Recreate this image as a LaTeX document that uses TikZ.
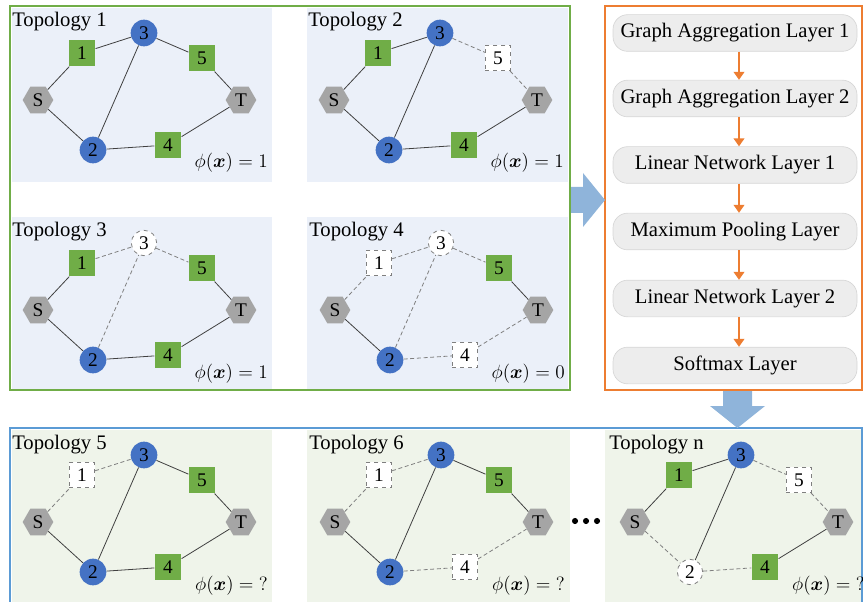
\documentclass[tikz,border=0pt]{standalone}
\usepackage{fontspec}
\setmainfont{Liberation Serif}
\usepackage{bm}
\usetikzlibrary{shapes.geometric,arrows.meta}
\definecolor{topbg}{HTML}{EBF0F9}
\definecolor{botbg}{HTML}{EFF4EA}
\definecolor{gnode}{HTML}{70AD47}
\definecolor{bnode}{HTML}{4472C4}
\definecolor{hexg}{HTML}{A5A5A5}
\definecolor{orng}{HTML}{ED7D31}
\definecolor{bframe}{HTML}{5B9BD5}
\definecolor{barrow}{HTML}{8FB4DA}
\definecolor{edgec}{HTML}{404040}
\definecolor{dashc}{HTML}{7F7F7F}
\definecolor{layerfill}{HTML}{EDEDED}
\definecolor{layerdraw}{HTML}{D6D6D6}
\newcommand\mypanel[3]{%
 \node[ttl] (#1t) at (12,27) {#2};
 \node[hexa] (#1S) at (38,100) {S};
 \node[hexa] (#1T) at (241,100) {T};
 \node[n1] (#11) at (82,53) {1};
 \node[n2] (#12) at (93,150) {2};
 \node[n3] (#13) at (144,33) {3};
 \node[n4] (#14) at (168,145) {4};
 \node[n5] (#15) at (202,58) {5};
 \draw[eSa] (#1S) -- (#11);
 \draw[eab] (#11) -- (#13);
 \draw[ebc] (#13) -- (#15);
 \draw[ecT] (#15) -- (#1T);
 \draw[eSd] (#1S) -- (#12);
 \draw[edb] (#12) -- (#13);
 \draw[ede] (#12) -- (#14);
 \draw[eeT] (#14) -- (#1T);
 \node[phi] (#1p) at (268,168) {$\phi\bigl(\bm{x}\bigr)={#3}$};
}
\tikzset{
 x=0.75pt, y=-0.75pt,
 ttl/.style={anchor=base west, inner sep=0pt, font=\fontsize{15.5}{18}\selectfont},
 phi/.style={anchor=base east, inner sep=0pt, font=\fontsize{15.5}{18}\selectfont},
 nbase/.style={inner sep=0pt, font=\fontsize{14.5}{17}\selectfont},
 sqon/.style={nbase, rectangle, minimum size=20pt, fill=gnode},
 sqoff/.style={nbase, rectangle, minimum size=19pt, fill=white, draw=dashc, dashed, line width=0.6pt},
 cion/.style={nbase, circle, minimum size=20pt, fill=bnode},
 cioff/.style={nbase, circle, minimum size=19pt, fill=white, draw=dashc, dashed, line width=0.6pt},
 hexa/.style={nbase, regular polygon, regular polygon sides=6, minimum size=23pt, fill=hexg},
 sedge/.style={draw=edgec, line width=0.6pt},
 dedge/.style={draw=dashc, line width=0.6pt, dash pattern=on 3pt off 2pt},
 n1/.style={sqon}, n2/.style={cion}, n3/.style={cion}, n4/.style={sqon}, n5/.style={sqon},
 eSa/.style={sedge}, eab/.style={sedge}, ebc/.style={sedge}, ecT/.style={sedge},
 eSd/.style={sedge}, edb/.style={sedge}, ede/.style={sedge}, eeT/.style={sedge},
 layer/.style={rectangle, rounded corners=11pt, fill=layerfill, draw=layerdraw, line width=0.5pt,
   minimum width=183pt, minimum height=27.5pt, inner sep=0pt, font=\fontsize{15.5}{18}\selectfont},
 larr/.style={draw=orng, line width=1.4pt, -{Triangle[width=8pt,length=6pt]}},
}
\begin{document}
\begin{tikzpicture}
\useasboundingbox (0,0) rectangle (863,602);
% panel backgrounds
\fill[topbg] (12,8) rectangle (272,182);
\fill[topbg] (307,8) rectangle (568,182);
\fill[topbg] (12,217) rectangle (272,389);
\fill[topbg] (307,217) rectangle (568,389);
\fill[botbg] (12,430) rectangle (272,602);
\fill[botbg] (307,430) rectangle (570,602);
\fill[botbg] (605,430) rectangle (863,602);
% frames
\draw[gnode, line width=1.6pt] (10,6) rectangle (570,390);
\draw[orng, line width=1.6pt] (605,6) rectangle (862,390);
\draw[bframe, line width=1.4pt] (10,605) -- (10,428) -- (862,428) -- (862,605);
% block arrows
\fill[barrow] (571,187) -- (583,187) -- (583,173) -- (605,200) -- (583,227) -- (583,213) -- (571,213) -- cycle;
\fill[barrow] (723,391) -- (752,391) -- (752,406) -- (765,406) -- (737.5,428) -- (710,406) -- (723,406) -- cycle;
% panels
\begin{scope}
 \mypanel{a}{Topology 1}{1}
\end{scope}
\begin{scope}[shift={(296,0)}, n5/.style={sqoff}, ebc/.style={dedge}, ecT/.style={dedge}]
 \mypanel{b}{Topology 2}{1}
\end{scope}
\begin{scope}[shift={(0,210)}, n3/.style={cioff}, eab/.style={dedge}, ebc/.style={dedge}, edb/.style={dedge}]
 \mypanel{c}{Topology 3}{1}
\end{scope}
\begin{scope}[shift={(297,210)}, n1/.style={sqoff}, n3/.style={cioff}, n4/.style={sqoff},
  eSa/.style={dedge}, eab/.style={dedge}, ebc/.style={dedge}, edb/.style={dedge}, ede/.style={dedge}, eeT/.style={dedge}]
 \mypanel{d}{Topology 4}{0}
\end{scope}
\begin{scope}[shift={(0,422)}, n1/.style={sqoff}, eSa/.style={dedge}, eab/.style={dedge}]
 \mypanel{e}{Topology 5}{?}
\end{scope}
\begin{scope}[shift={(297,422)}, n1/.style={sqoff}, n4/.style={sqoff},
  eSa/.style={dedge}, eab/.style={dedge}, ede/.style={dedge}, eeT/.style={dedge}]
 \mypanel{f}{Topology 6}{?}
\end{scope}
\begin{scope}[shift={(597,422)}, n5/.style={sqoff}, n2/.style={cioff},
  ebc/.style={dedge}, ecT/.style={dedge}, eSd/.style={dedge}, ede/.style={dedge}]
 \mypanel{g}{Topology n}{?}
\end{scope}
% dots
\fill (575,521) circle (2.3pt);
\fill (586,521) circle (2.3pt);
\fill (597,521) circle (2.3pt);
% layers
\node[layer] (L1) at (735,33) {Graph Aggregation Layer 1};
\node[layer] (L2) at (735,98.5) {Graph Aggregation Layer 2};
\node[layer] (L3) at (735,165) {Linear Network Layer 1};
\node[layer] (L4) at (735,231.5) {Maximum Pooling Layer};
\node[layer] (L5) at (735,298.5) {Linear Network Layer 2};
\node[layer] (L6) at (735,365.5) {Softmax Layer};
\draw[larr] (L1.south -| 739,0) -- (L2.north -| 739,0);
\draw[larr] (L2.south -| 739,0) -- (L3.north -| 739,0);
\draw[larr] (L3.south -| 739,0) -- (L4.north -| 739,0);
\draw[larr] (L4.south -| 739,0) -- (L5.north -| 739,0);
\draw[larr] (L5.south -| 739,0) -- (L6.north -| 739,0);
\end{tikzpicture}
\end{document}
